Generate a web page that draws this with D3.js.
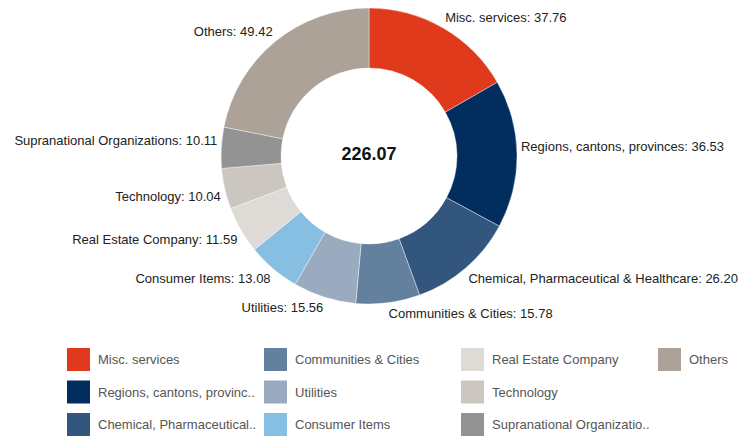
<!DOCTYPE html>
<html>
<head>
<meta charset="utf-8">
<script src="https://cdn.jsdelivr.net/npm/d3@7"></script>
<style>
  body { margin: 0; background: #fff; }
  svg text { font-family: "Liberation Sans", Arial, sans-serif; }
</style>
</head>
<body>
<div id="chart"></div>
<script>
// data
var categories = ["Misc. services", "Regions, cantons, provinces", "Chemical, Pharmaceutical & Healthcare",
  "Communities & Cities", "Utilities", "Consumer Items", "Real Estate Company", "Technology",
  "Supranational Organizations", "Others"];
var values = [37.76, 36.53, 26.20, 15.78, 15.56, 13.08, 11.59, 10.04, 10.11, 49.42];
var colors = ["#e03a1c", "#022d5f", "#33567f", "#63809f", "#9aabc0", "#87bfe3",
  "#dedbd6", "#cbc6bf", "#939393", "#aca298"];
var total = "226.07";

var width = 749, height = 436;
var cx = 369, cy = 156, outerR = 148, innerR = 88;

var svg = d3.select("#chart")
  .append("svg")
  .attr("width", width)
  .attr("height", height);

var data = categories.map(function (c, i) {
  return { name: c, value: values[i], color: colors[i] };
});

var pie = d3.pie().sort(null).value(function (d) { return d.value; });
var arc = d3.arc().innerRadius(innerR).outerRadius(outerR);

var g = svg.append("g").attr("transform", "translate(" + cx + "," + cy + ")");
var arcs = pie(data);

g.selectAll("path")
  .data(arcs)
  .enter()
  .append("path")
  .attr("d", arc)
  .attr("fill", function (d) { return d.data.color; })
  .attr("stroke", "#fff")
  .attr("stroke-width", 0.4);

// slice labels
var labelR = 152;
g.selectAll(".lbl")
  .data(arcs)
  .enter()
  .append("text")
  .attr("class", "lbl")
  .attr("x", function (d) {
    var a = (d.startAngle + d.endAngle) / 2;
    return labelR * Math.sin(a);
  })
  .attr("y", function (d) {
    var a = (d.startAngle + d.endAngle) / 2;
    var y = -labelR * Math.cos(a);
    return y + (Math.cos(a) > 0 ? -7 : 7);
  })
  .attr("dy", "0.35em")
  .attr("text-anchor", function (d) {
    var a = (d.startAngle + d.endAngle) / 2;
    return a < Math.PI ? "start" : "end";
  })
  .style("font-size", "13px")
  .style("fill", "#222")
  .text(function (d) { return d.data.name + ": " + d.data.value.toFixed(2); });

// total in the middle
g.append("text")
  .attr("text-anchor", "middle")
  .attr("y", -2)
  .attr("dy", "0.35em")
  .style("font-size", "18px")
  .style("font-weight", "bold")
  .style("fill", "#111")
  .text(total);

// legend, filled column by column
function shorten(s) {
  return s.length > 25 ? s.slice(0, 25).trim() + ".." : s;
}
var legend = svg.append("g");
var items = legend.selectAll(".item")
  .data(data)
  .enter()
  .append("g")
  .attr("class", "item")
  .attr("transform", function (d, i) {
    var col = Math.floor(i / 3), row = i % 3;
    return "translate(" + (67 + col * 197) + "," + (348 + row * 32.5) + ")";
  });

items.append("rect")
  .attr("width", 23)
  .attr("height", 23)
  .attr("fill", function (d) { return d.color; });

items.append("text")
  .attr("x", 31)
  .attr("y", 11.5)
  .attr("dy", "0.35em")
  .style("font-size", "13px")
  .style("fill", "#555")
  .text(function (d) { return shorten(d.name); });
</script>
</body>
</html>
